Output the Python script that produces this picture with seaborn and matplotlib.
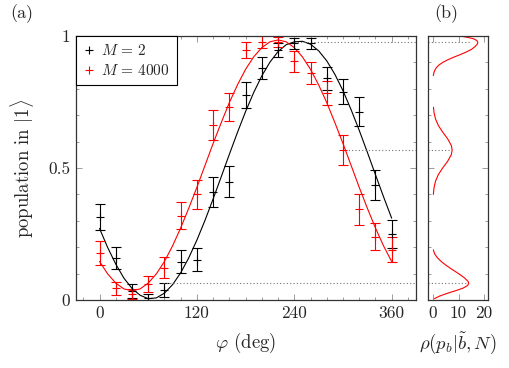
import numpy as np
import pandas as pd
import seaborn as sns
import matplotlib
matplotlib.use("Agg")
import matplotlib.pyplot as plt
from matplotlib.lines import Line2D
from matplotlib.ticker import MultipleLocator

# measured points
phi_pts = [0, 20, 40, 60, 80, 100, 120, 140, 160, 180, 200, 220, 240, 260, 280, 300, 320, 340, 360]
m2_pop = [0.315, 0.158, 0.035, 0.006, 0.038, 0.145, 0.152, 0.41, 0.448, 0.777, 0.878, 0.947, 0.972,
          0.972, 0.84, 0.789, 0.713, 0.436, 0.25]
m2_err = [0.05, 0.042, 0.027, 0.017, 0.025, 0.043, 0.044, 0.057, 0.059, 0.05, 0.042, 0.028, 0.02,
          0.02, 0.043, 0.047, 0.055, 0.057, 0.053]
m4000_pop = [0.179, 0.045, 0.022, 0.06, 0.123, 0.32, 0.40, 0.663, 0.732, 0.947, 0.978, 0.978, 0.905,
             0.859, 0.785, 0.568, 0.343, 0.24, 0.19]
m4000_err = [0.046, 0.025, 0.02, 0.03, 0.041, 0.052, 0.056, 0.057, 0.053, 0.032, 0.022, 0.02, 0.04,
             0.042, 0.045, 0.057, 0.06, 0.05, 0.047]

# fit curves
phi_fit = list(range(0, 361, 10))
m2_fit = [0.271, 0.199, 0.136, 0.083, 0.044, 0.018, 0.005, 0.008, 0.026, 0.058, 0.103, 0.160, 0.227,
          0.302, 0.383, 0.467, 0.552, 0.635, 0.714, 0.786, 0.849, 0.901, 0.941, 0.967, 0.978, 0.980,
          0.969, 0.944, 0.906, 0.855, 0.793, 0.721, 0.643, 0.560, 0.475, 0.391, 0.310]
m4000_fit = [0.146, 0.099, 0.064, 0.042, 0.035, 0.042, 0.064, 0.099, 0.146, 0.205, 0.273, 0.348,
             0.427, 0.510, 0.593, 0.672, 0.748, 0.815, 0.874, 0.921, 0.956, 0.978, 0.985, 0.978,
             0.956, 0.921, 0.874, 0.815, 0.748, 0.672, 0.593, 0.510, 0.427, 0.348, 0.273, 0.205, 0.146]

# density in panel (b), three bumps
pb_top = [1.0, 0.995, 0.99, 0.983, 0.976, 0.968, 0.96, 0.95, 0.94, 0.93, 0.92, 0.91, 0.90, 0.89,
          0.88, 0.87, 0.86, 0.85]
rho_top = [10.5, 13.5, 15.8, 17.2, 17.6, 17.3, 16.5, 15.2, 13.2, 10.8, 8.2, 5.8, 3.8, 2.3, 1.3,
           0.65, 0.3, 0.1]
pb_mid = [0.73, 0.71, 0.685, 0.66, 0.635, 0.61, 0.585, 0.568, 0.55, 0.525, 0.50, 0.475, 0.45,
          0.425, 0.40]
rho_mid = [0.15, 0.37, 0.98, 2.13, 3.85, 5.77, 7.18, 7.5, 7.15, 5.70, 3.77, 2.07, 0.95, 0.36, 0.11]
pb_bot = [0.19, 0.175, 0.16, 0.145, 0.13, 0.115, 0.10, 0.085, 0.07, 0.063, 0.055, 0.045, 0.035,
          0.025, 0.015, 0.005]
rho_bot = [0.1, 0.6, 1.7, 3.3, 5.3, 7.6, 10.0, 12.2, 13.8, 14.0, 13.6, 11.8, 8.8, 5.5, 2.6, 0.5]

# guide lines: level, start angle, end in panel (b)
guide_level = [0.976, 0.568, 0.063]
guide_start = [240, 303, 78]
guide_end = [14.5, 7.2, 13.2]

sns.set_style("ticks")
plt.rcParams["font.family"] = "serif"
plt.rcParams["font.serif"] = ["cmr10", "DejaVu Serif"]
plt.rcParams["mathtext.fontset"] = "cm"
plt.rcParams["axes.formatter.use_mathtext"] = True
plt.rcParams["font.size"] = 12

fig = plt.figure(figsize=(5.1, 3.68), dpi=100)
ax = fig.add_axes([76 / 510, 68 / 368, 340 / 510, 264 / 368])
axb = fig.add_axes([428 / 510, 68 / 368, 60 / 510, 264 / 368])

df_fit = pd.DataFrame({"phi": phi_fit, "m2": m2_fit, "m4000": m4000_fit})
sns.lineplot(data=df_fit, x="phi", y="m2", color="black", lw=0.8, ax=ax)
sns.lineplot(data=df_fit, x="phi", y="m4000", color="red", lw=0.8, ax=ax)

for pop, err, col in [(m2_pop, m2_err, "black"), (m4000_pop, m4000_err, "red")]:
    ax.errorbar(phi_pts, pop, yerr=err, fmt="+", color=col, ms=6, mew=0.8,
                elinewidth=0.8, capsize=3.5, capthick=0.8)

for lev, st in zip(guide_level, guide_start):
    ax.plot([st, 392], [lev, lev], ls=(0, (1, 2)), color="0.45", lw=0.8)

ax.set_xlim(-29, 390)
ax.set_ylim(0, 1)
ax.set_xticks([0, 120, 240, 360])
ax.set_xticklabels(["0", "120", "240", "360"])
ax.set_yticks([0, 0.5, 1])
ax.set_yticklabels(["0", "0.5", "1"])
ax.xaxis.set_minor_locator(MultipleLocator(20))
ax.yaxis.set_minor_locator(MultipleLocator(0.1))
ax.set_xlabel(r"$\varphi$ (deg)", labelpad=7, fontsize=13.5)
ax.set_ylabel(r"population in $|1\rangle$", labelpad=9, fontsize=13.5)

handles = [Line2D([], [], marker="+", ls="none", color="black", ms=6, mew=0.8),
           Line2D([], [], marker="+", ls="none", color="red", ms=6, mew=0.8)]
leg = ax.legend(handles, [r"$M\,=\,2$", r"$M\,=\,4000$"], loc="upper left", borderaxespad=0,
                fancybox=False, framealpha=1, edgecolor="black", fontsize=11,
                handlelength=0.8, handletextpad=0.4, borderpad=0.45, labelspacing=0.35)
leg.get_frame().set_linewidth(0.8)

for pb, rho in [(pb_top, rho_top), (pb_mid, rho_mid), (pb_bot, rho_bot)]:
    sns.lineplot(x=rho, y=pb, sort=False, estimator=None, color="red", lw=0.8, ax=axb)
for lev, en in zip(guide_level, guide_end):
    axb.plot([-2, en], [lev, lev], ls=(0, (1, 2)), color="0.45", lw=0.8)

axb.set_xlim(-2, 21.6)
axb.set_ylim(0, 1)
axb.set_xticks([0, 10, 20])
axb.set_xticklabels(["0", "10", "20"])
axb.set_yticks([0, 0.5, 1])
axb.yaxis.set_minor_locator(MultipleLocator(0.1))
axb.set_yticklabels([])
axb.set_ylabel("")
axb.set_xlabel(r"$\rho(p_b|\tilde{b},N)$", labelpad=7, fontsize=13.5)

for a in (ax, axb):
    a.tick_params(which="both", direction="in", top=True, right=True, color="0.55", width=0.6,
                  labelsize=12.5, pad=4)
    a.tick_params(which="major", length=4)
    a.tick_params(which="minor", length=2.5)
    for s in a.spines.values():
        s.set_linewidth(0.9)
        s.set_color("0.2")

fig.text(22 / 510, 1 - 14 / 368, "(a)", ha="center", va="center", fontsize=13)
fig.text(446 / 510, 1 - 14 / 368, "(b)", ha="center", va="center", fontsize=13)

fig.savefig("out.png", dpi=100)
